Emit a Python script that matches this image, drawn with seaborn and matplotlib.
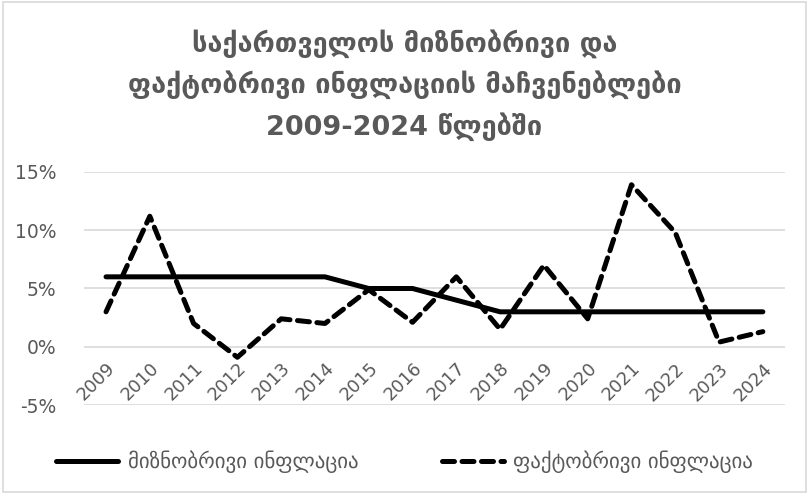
import pandas as pd
import matplotlib.pyplot as plt
import seaborn as sns
from matplotlib.patches import Rectangle

sns.set_theme(style="white")
plt.rcParams["font.family"] = ["DejaVu Sans"]

years = list(range(2009, 2025))
target = [6, 6, 6, 6, 6, 6, 5, 5, 4, 3, 3, 3, 3, 3, 3, 3]
actual = [3.0, 11.2, 2.0, -0.9, 2.4, 2.0, 4.9, 2.1, 6.0, 1.5, 7.0, 2.4, 13.9, 9.8, 0.4, 1.3]
label_target = "მიზნობრივი ინფლაცია"
label_actual = "ფაქტობრივი ინფლაცია"
title = "საქართველოს მიზნობრივი და\nფაქტობრივი ინფლაციის მაჩვენებლები\n2009-2024 წლებში"
y_ticks = [-5, 0, 5, 10, 15]

df = pd.DataFrame({"year": years * 2,
                   "value": target + actual,
                   "series": [label_target] * len(years) + [label_actual] * len(years)})

grey = "#595959"
fig = plt.figure(figsize=(8.09, 4.94), dpi=100)
ax = fig.add_axes([0.104, 0.18, 0.866, 0.472])

sns.lineplot(data=df, x="year", y="value", hue="series", style="series",
             palette={label_target: "black", label_actual: "black"},
             dashes={label_target: "", label_actual: (2.4, 1.5)},
             linewidth=3.6, ax=ax, legend=False)
for line in ax.lines:
    line.set_dash_capstyle("round")
    line.set_solid_capstyle("round")

# x labels sit on the 0% line, like the Excel original
ax.spines["bottom"].set_position(("data", 0))
for s in ax.spines.values():
    s.set_visible(False)

ax.set_xlim(2008.5, 2024.5)
ax.set_ylim(-5, 15)
ax.set_yticks(y_ticks)
ax.set_yticklabels([f"{v}%" for v in y_ticks], color=grey, fontsize=13.5)
ax.set_xticks(years)
ax.set_xticklabels([str(y) for y in years], rotation=45, ha="right", va="top",
                   rotation_mode="anchor", color=grey, fontsize=13)
ax.tick_params(axis="both", length=0)
ax.tick_params(axis="x", pad=9)
ax.tick_params(axis="y", pad=20)
ax.yaxis.grid(True, color="#d9d9d9", linewidth=1.2)
ax.set_axisbelow(True)
ax.set_xlabel("")
ax.set_ylabel("")

fig.text(0.5, 0.828, title, ha="center", va="center", fontsize=19.5,
         fontweight="bold", color=grey, linespacing=1.58)

handles = [plt.Line2D([], [], color="black", lw=3.6, solid_capstyle="round"),
           plt.Line2D([], [], color="black", lw=3.6, dashes=(2.4, 1.5), dash_capstyle="round")]
fig.legend(handles, [label_target, label_actual], loc="center", bbox_to_anchor=(0.5, 0.065),
           ncol=2, frameon=False, fontsize=15, labelcolor=grey, handlelength=3.0,
           columnspacing=4.0, handletextpad=0.45)

fig.patches.append(Rectangle((0.004, 0.004), 0.992, 0.992, transform=fig.transFigure,
                             fill=False, edgecolor="#d9d9d9", linewidth=1.2))

fig.savefig("out.png", dpi=100)
